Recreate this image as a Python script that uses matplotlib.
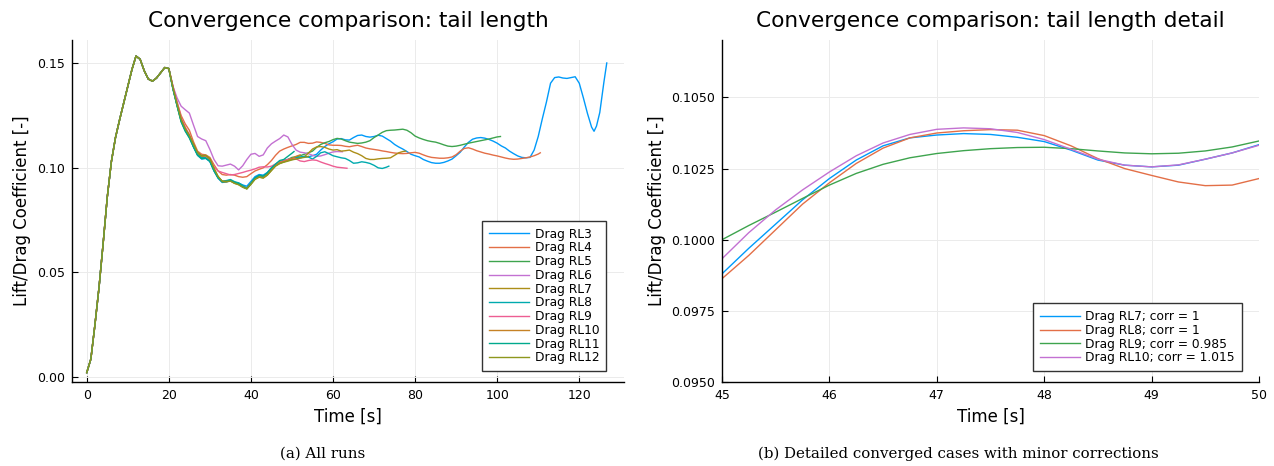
import matplotlib
matplotlib.use("Agg")
import matplotlib.pyplot as plt

# colours of the default Plots.jl palette
colors = ["#009AFA", "#E36F47", "#3EA44E", "#C371D2", "#AC8E18",
          "#00AAAE", "#ED5E93", "#C68225", "#00A98D", "#8E971D"]

# common start-up transient, identical for every run (t = 0..20 s)
t_rise = [0, 1, 2, 3, 4, 5, 6, 7, 8, 9, 10, 11, 12, 13, 14, 15, 16, 17, 18, 19, 20]
cd_rise = [0.0020, 0.0085, 0.0250, 0.0430, 0.0640, 0.0860, 0.1030, 0.1145, 0.1230,
           0.1310, 0.1390, 0.1470, 0.1535, 0.1520, 0.1465, 0.1425, 0.1415, 0.1430,
           0.1455, 0.1480, 0.1475]

# tails from t = 21 s onward, one pair per tail length
rl3_t = [*range(21, 124), 123.6, 124.2, 125, 126, 126.7]
rl3_cd = [0.1378, 0.1302, 0.1232, 0.1188, 0.1152, 0.1100, 0.1060, 0.1042, 0.1045, 0.1030,
          0.0985, 0.0950, 0.0930, 0.0932, 0.0938, 0.0928, 0.0927, 0.0918, 0.0912, 0.0935,
          0.0958, 0.0968, 0.0965, 0.0978, 0.1000, 0.1018, 0.1030, 0.1035, 0.1040, 0.1045,
          0.1045, 0.1048, 0.1052, 0.1053, 0.1058, 0.1065, 0.1085, 0.1102, 0.1115, 0.1125,
          0.1138, 0.1140, 0.1134, 0.1133, 0.1145, 0.1155, 0.1157, 0.1150, 0.1147, 0.1150,
          0.1156, 0.1152, 0.1140, 0.1128, 0.1112, 0.1100, 0.1090, 0.1078, 0.1065, 0.1058,
          0.1052, 0.1040, 0.1032, 0.1025, 0.1022, 0.1022, 0.1026, 0.1033, 0.1042, 0.1058,
          0.1075, 0.1100, 0.1122, 0.1137, 0.1143, 0.1145, 0.1142, 0.1136, 0.1128, 0.1118,
          0.1105, 0.1095, 0.1080, 0.1068, 0.1057, 0.1050, 0.1048, 0.1050, 0.1085, 0.1150,
          0.1235, 0.1315, 0.1405, 0.1432, 0.1435, 0.1430, 0.1428, 0.1432, 0.1436, 0.1405,
          0.1335, 0.1260, 0.1195, 0.1175, 0.1200, 0.1265, 0.1410, 0.1502]
rl4_t = [*range(21, 111), 110.5]
rl4_cd = [0.1390, 0.1315, 0.1250, 0.1210, 0.1180, 0.1125, 0.1080, 0.1065, 0.1062, 0.1050,
          0.1015, 0.0985, 0.0968, 0.0965, 0.0968, 0.0965, 0.0958, 0.0955, 0.0958, 0.0972,
          0.0985, 0.0993, 0.1000, 0.1015, 0.1035, 0.1060, 0.1080, 0.1090, 0.1098, 0.1105,
          0.1112, 0.1122, 0.1122, 0.1117, 0.1118, 0.1124, 0.1122, 0.1117, 0.1110, 0.1108,
          0.1108, 0.1107, 0.1103, 0.1101, 0.1105, 0.1108, 0.1102, 0.1095, 0.1091, 0.1088,
          0.1085, 0.1081, 0.1078, 0.1074, 0.1071, 0.1069, 0.1068, 0.1069, 0.1072, 0.1074,
          0.1070, 0.1062, 0.1055, 0.1050, 0.1048, 0.1046, 0.1046, 0.1048, 0.1052, 0.1063,
          0.1080, 0.1093, 0.1096, 0.1090, 0.1082, 0.1076, 0.1070, 0.1066, 0.1061, 0.1057,
          0.1052, 0.1047, 0.1043, 0.1041, 0.1042, 0.1045, 0.1048, 0.1052, 0.1058, 0.1066,
          0.1072]
rl5_t = [*range(21, 101), 100.8]
rl5_cd = [0.1380, 0.1298, 0.1222, 0.1178, 0.1145, 0.1102, 0.1063, 0.1046, 0.1048, 0.1033,
          0.0988, 0.0953, 0.0934, 0.0936, 0.0941, 0.0930, 0.0923, 0.0911, 0.0903, 0.0926,
          0.0950, 0.0960, 0.0957, 0.0971, 0.0994, 0.1015, 0.1028, 0.1032, 0.1040, 0.1050,
          0.1053, 0.1058, 0.1065, 0.1072, 0.1080, 0.1098, 0.1112, 0.1120, 0.1126, 0.1135,
          0.1141, 0.1138, 0.1130, 0.1123, 0.1120, 0.1117, 0.1119, 0.1123, 0.1130, 0.1145,
          0.1157, 0.1170, 0.1178, 0.1180, 0.1181, 0.1183, 0.1185, 0.1180, 0.1168, 0.1152,
          0.1143, 0.1136, 0.1130, 0.1126, 0.1123, 0.1117, 0.1110, 0.1104, 0.1102, 0.1104,
          0.1108, 0.1113, 0.1118, 0.1122, 0.1126, 0.1130, 0.1134, 0.1138, 0.1143, 0.1148,
          0.1150]
rl6_t = [*range(21, 62), 62.3]
rl6_cd = [0.1390, 0.1335, 0.1295, 0.1278, 0.1262, 0.1205, 0.1150, 0.1138, 0.1130, 0.1088,
          0.1040, 0.1010, 0.1008, 0.1013, 0.1018, 0.1008, 0.0990, 0.1010, 0.1040, 0.1065,
          0.1069, 0.1055, 0.1062, 0.1095, 0.1115, 0.1128, 0.1140, 0.1157, 0.1148, 0.1112,
          0.1085, 0.1075, 0.1072, 0.1068, 0.1060, 0.1055, 0.1057, 0.1063, 0.1070, 0.1076,
          0.1078, 0.1077]
rl7_t = [*range(21, 78), 77.7]
rl7_cd = [0.1382, 0.1302, 0.1228, 0.1184, 0.1152, 0.1110, 0.1070, 0.1054, 0.1056, 0.1040,
          0.0993, 0.0955, 0.0933, 0.0933, 0.0937, 0.0926, 0.0920, 0.0908, 0.0900, 0.0922,
          0.0946, 0.0956, 0.0952, 0.0966, 0.0988, 0.1010, 0.1022, 0.1028, 0.1035, 0.1040,
          0.1043, 0.1048, 0.1053, 0.1070, 0.1090, 0.1100, 0.1102, 0.1098, 0.1090, 0.1085,
          0.1087, 0.1080, 0.1082, 0.1085, 0.1075, 0.1068, 0.1058, 0.1045, 0.1040, 0.1040,
          0.1043, 0.1045, 0.1046, 0.1048, 0.1060, 0.1072, 0.1078, 0.1080]
rl8_t = [*range(21, 74), 73.6]
rl8_cd = [0.1379, 0.1300, 0.1226, 0.1182, 0.1150, 0.1106, 0.1066, 0.1049, 0.1050, 0.1034,
          0.0989, 0.0954, 0.0936, 0.0939, 0.0944, 0.0934, 0.0928, 0.0916, 0.0903, 0.0924,
          0.0950, 0.0963, 0.0960, 0.0975, 0.0998, 0.1012, 0.1022, 0.1030, 0.1038, 0.1045,
          0.1050, 0.1052, 0.1055, 0.1052, 0.1042, 0.1055, 0.1072, 0.1077, 0.1068, 0.1058,
          0.1053, 0.1048, 0.1045, 0.1035, 0.1022, 0.1024, 0.1029, 0.1026, 0.1021, 0.1012,
          0.1000, 0.0997, 0.1003, 0.1008]
rl9_t = [*range(21, 63), 63.4]
rl9_cd = [0.1390, 0.1315, 0.1240, 0.1195, 0.1160, 0.1110, 0.1075, 0.1058, 0.1055, 0.1040,
          0.1005, 0.0985, 0.0978, 0.0972, 0.0966, 0.0968, 0.0973, 0.0978, 0.0984, 0.0989,
          0.0995, 0.1003, 0.1005, 0.1004, 0.1008, 0.1018, 0.1027, 0.1035, 0.1040, 0.1045,
          0.1043, 0.1033, 0.1030, 0.1035, 0.1038, 0.1036, 0.1028, 0.1021, 0.1015, 0.1008,
          0.1003, 0.1001, 0.0998]
rl10_t = [*range(21, 53)]
rl10_cd = [0.1383, 0.1305, 0.1230, 0.1186, 0.1154, 0.1112, 0.1072, 0.1056, 0.1058, 0.1042,
           0.0996, 0.0958, 0.0936, 0.0935, 0.0939, 0.0929, 0.0922, 0.0910, 0.0902, 0.0925,
           0.0948, 0.0958, 0.0954, 0.0968, 0.0990, 0.1012, 0.1025, 0.1030, 0.1036, 0.1045,
           0.1055, 0.1062]
rl11_t = [*range(21, 51), 50.5]
rl11_cd = [0.1378, 0.1297, 0.1220, 0.1175, 0.1143, 0.1100, 0.1060, 0.1044, 0.1046, 0.1031,
           0.0986, 0.0952, 0.0933, 0.0936, 0.0941, 0.0931, 0.0924, 0.0910, 0.0900, 0.0925,
           0.0952, 0.0964, 0.0961, 0.0976, 0.1000, 0.1018, 0.1035, 0.1040, 0.1055, 0.1070,
           0.1078]
rl12_t = [*range(21, 55)]
rl12_cd = [0.1384, 0.1306, 0.1232, 0.1188, 0.1156, 0.1114, 0.1074, 0.1058, 0.1060, 0.1044,
           0.0998, 0.0959, 0.0936, 0.0934, 0.0937, 0.0926, 0.0919, 0.0907, 0.0899, 0.0921,
           0.0945, 0.0955, 0.0951, 0.0965, 0.0987, 0.1008, 0.1020, 0.1027, 0.1032, 0.1038,
           0.1042, 0.1047, 0.1050, 0.1055]

runs_t = [rl3_t, rl4_t, rl5_t, rl6_t, rl7_t, rl8_t, rl9_t, rl10_t, rl11_t, rl12_t]
runs_cd = [rl3_cd, rl4_cd, rl5_cd, rl6_cd, rl7_cd, rl8_cd, rl9_cd, rl10_cd, rl11_cd, rl12_cd]
run_labels = ["Drag RL3", "Drag RL4", "Drag RL5", "Drag RL6", "Drag RL7",
              "Drag RL8", "Drag RL9", "Drag RL10", "Drag RL11", "Drag RL12"]

# detail window 45-50 s, corrected drag
t_det = [45, 45.25, 45.5, 45.75, 46, 46.25, 46.5, 46.75, 47, 47.25, 47.5, 47.75,
         48, 48.25, 48.5, 48.75, 49, 49.25, 49.5, 49.75, 50]
det_rl7 = [0.09880, 0.09970, 0.10055, 0.10140, 0.10215, 0.10280, 0.10330, 0.10358,
           0.10368, 0.10373, 0.10370, 0.10360, 0.10345, 0.10315, 0.10280, 0.10262,
           0.10256, 0.10262, 0.10283, 0.10305, 0.10334]
det_rl8 = [0.09863, 0.09945, 0.10035, 0.10125, 0.10200, 0.10268, 0.10322, 0.10358,
           0.10375, 0.10383, 0.10387, 0.10385, 0.10366, 0.10330, 0.10285, 0.10250,
           0.10226, 0.10203, 0.10190, 0.10192, 0.10215]
det_rl9 = [0.10000, 0.10050, 0.10097, 0.10145, 0.10192, 0.10233, 0.10265, 0.10288,
           0.10303, 0.10313, 0.10320, 0.10324, 0.10325, 0.10320, 0.10312, 0.10305,
           0.10302, 0.10304, 0.10312, 0.10326, 0.10347]
det_rl10 = [0.09933, 0.10025, 0.10105, 0.10175, 0.10238, 0.10295, 0.10340, 0.10370,
            0.10388, 0.10393, 0.10390, 0.10377, 0.10352, 0.10318, 0.10283, 0.10262,
            0.10256, 0.10263, 0.10283, 0.10305, 0.10332]
det_series = [det_rl7, det_rl8, det_rl9, det_rl10]
det_labels = ["Drag RL7; corr = 1", "Drag RL8; corr = 1",
              "Drag RL9; corr = 0.985", "Drag RL10; corr = 1.015"]


def style_axes(ax):
    ax.grid(True, color="#ebebeb", linewidth=0.7)
    ax.set_axisbelow(True)
    for side in ("top", "right"):
        ax.spines[side].set_visible(False)
    for side in ("left", "bottom"):
        ax.spines[side].set_linewidth(1.0)
    ax.tick_params(direction="in", length=4, width=0.8, labelsize=9, pad=5)


fig = plt.figure(figsize=(12.74, 4.66), dpi=100)
ax1 = fig.add_axes([0.0565, 0.1803, 0.4333, 0.7339])
ax2 = fig.add_axes([0.5667, 0.1803, 0.4215, 0.7339])

for t, cd, lab, c in zip(runs_t, runs_cd, run_labels, colors):
    ax1.plot(t_rise + list(t), cd_rise + list(cd), color=c, lw=1.0, label=lab)
ax1.set_xlim(-3.6, 130.9)
ax1.set_ylim(-0.0025, 0.1612)
ax1.set_xticks([0, 20, 40, 60, 80, 100, 120])
ax1.set_yticks([0.0, 0.05, 0.10, 0.15])
ax1.set_yticklabels(["0.00", "0.05", "0.10", "0.15"])
style_axes(ax1)
ax1.set_title("Convergence comparison: tail length", fontsize=15.6, pad=9)
ax1.set_xlabel("Time [s]", fontsize=12)
ax1.set_ylabel("Lift/Drag Coefficient [-]", fontsize=12)

for cd, lab, c in zip(det_series, det_labels, colors):
    ax2.plot(t_det, cd, color=c, lw=1.0, label=lab)
ax2.set_xlim(45, 50)
ax2.set_ylim(0.095, 0.10702)
ax2.set_yticks([0.095, 0.0975, 0.100, 0.1025, 0.105])
ax2.set_yticklabels(["0.0950", "0.0975", "0.1000", "0.1025", "0.1050"])
style_axes(ax2)
ax2.set_title("Convergence comparison: tail length detail", fontsize=15.6, pad=9)
ax2.set_xlabel("Time [s]", fontsize=12)
ax2.set_ylabel("Lift/Drag Coefficient [-]", fontsize=12)

for ax in (ax1, ax2):
    leg = ax.legend(loc="lower right", bbox_to_anchor=(0.968, 0.032), fontsize=8.8,
                    handlelength=3.3, handletextpad=0.45, labelspacing=0.06,
                    borderpad=0.55, borderaxespad=0.0, fancybox=False, framealpha=1.0)
    leg.get_frame().set_edgecolor("#333333")
    leg.get_frame().set_linewidth(1.0)

fig.text(0.253, 1 - 454 / 466, "(a) All runs", ha="center", va="center",
         fontsize=10.8, family="DejaVu Serif")
fig.text(0.752, 1 - 454 / 466, "(b) Detailed converged cases with minor corrections",
         ha="center", va="center", fontsize=10.8, family="DejaVu Serif")

fig.savefig("out.png", dpi=100)
